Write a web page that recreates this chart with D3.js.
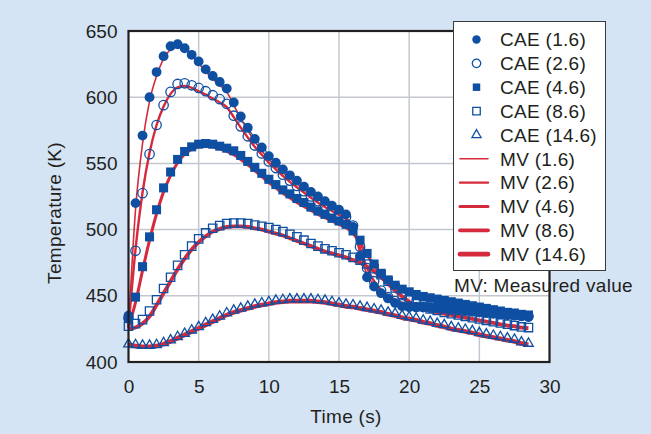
<!DOCTYPE html>
<html>
<head>
<meta charset="utf-8">
<script src="https://cdn.jsdelivr.net/npm/d3@7"></script>
<style>
  body { margin: 0; background: #d5e4f4; }
  svg { display: block; font-family: "Liberation Sans", Arial, sans-serif; }
</style>
</head>
<body>
<svg id="chart"></svg>
<script>
// time axis of both the CAE points and the measured values (s)
const time = [
  0, 0.5, 1, 1.5, 2, 2.5, 3, 3.5, 4, 4.5, 5, 5.5, 6, 6.5, 7, 7.5, 8, 8.5, 9, 9.5,
  10, 10.5, 11, 11.5, 12, 12.5, 13, 13.5, 14, 14.5, 15, 15.5, 16, 16.5, 17, 17.5, 18, 18.5, 19, 19.5,
  20, 20.5, 21, 21.5, 22, 22.5, 23, 23.5, 24, 24.5, 25, 25.5, 26, 26.5, 27, 27.5, 28, 28.5,
];

// CAE results (K)
const cae16 = [
  435, 520, 571, 600, 619, 631, 638.5, 640, 637, 632, 627, 621, 616, 611.5, 606.5, 596, 585.5, 577, 568.5, 562,
  555.5, 550.5, 545.5, 541, 537, 532.5, 528.5, 525, 521.5, 518, 515, 511.5, 502, 480, 464, 457, 452, 448, 444.5, 442,
  441.5, 441.5, 441.5, 441.5, 441, 440.5, 439.5, 439, 438.5, 438, 437.5, 437, 436.5, 436, 435.5, 435, 434.5, 434,
];
const cae26 = [
  433, 484, 527.5, 557, 579, 594, 604, 610, 610.5, 609, 607, 604.5, 601.5, 598.5, 595, 586, 578, 570.5, 563.5, 557.5,
  551.5, 546.5, 541.5, 537, 533, 529, 525, 521.5, 518, 515, 512, 509.5, 503, 487, 471, 461, 454, 449, 446, 443.5,
  442, 441.5, 441.5, 441, 441, 440.5, 440, 439.5, 439, 438.5, 438, 437.5, 437, 436.5, 436, 435.5, 435, 434.5,
];
const cae46 = [
  433, 449, 472, 494.5, 515, 531.5, 543.5, 553, 559, 562.5, 564.5, 565, 564.5, 563, 561.5, 559.5, 556, 551.5, 547, 542.5,
  538, 534, 530, 527, 523.5, 520.5, 517, 514, 511.5, 508.5, 506.5, 504, 499, 492, 482, 474, 467, 462, 458, 455,
  453, 451, 449.5, 448.5, 447.5, 446.5, 445.5, 444.5, 443.5, 442.5, 441.5, 440.5, 439.5, 438.5, 437.5, 437, 436, 435.5,
];
const cae86 = [
  427, 429, 432, 438.5, 447, 455.5, 464, 473, 481, 487.5, 493, 497.5, 501, 503, 504.5, 505, 505, 504.5, 503.5, 502.5,
  501.5, 500, 498.5, 496.5, 494.5, 492, 489.5, 487.5, 485.5, 484, 482.5, 481, 479, 477, 474, 470.5, 466, 461, 456, 451,
  447, 444, 442, 440, 439, 437.5, 436.5, 435.5, 434.5, 433.5, 432.5, 431.5, 430.5, 429.5, 428.5, 427.5, 426.5, 426,
];
const cae146 = [
  413.5, 413, 412.5, 412.5, 413, 414.5, 416.5, 419, 421.5, 424, 426.5, 429.5, 432, 434.5, 437, 439, 440.5, 442, 443.5, 444.5,
  445.5, 446.5, 447, 447.5, 447.5, 447.5, 447.5, 447, 446.5, 445.5, 444.5, 443.5, 443, 442, 441, 440, 439, 437.5, 436.5, 435,
  434, 433, 431.5, 430.5, 429, 428, 426.5, 425.5, 424.5, 423.5, 422, 421, 420, 419, 418, 417, 415, 414,
];

// measured values (K)
const mv16 = [
  426, 515, 565, 597, 616, 629, 636, 638, 636.5, 631.5, 625.5, 619.5, 614, 609, 604, 594, 584, 575, 566.5, 559.5,
  553, 548, 543, 538.5, 534.5, 530.5, 526.5, 523, 519.5, 516, 513, 509.5, 501, 482, 466, 458, 452.5, 448.5, 445.5, 443,
  441.5, 441, 440.5, 440, 439.5, 439, 438.5, 438, 437.5, 437, 436.5, 436, 435.5, 435, 434.5, 434, 433.5, 433,
];
const mv26 = [
  426, 485, 528, 558, 579, 593, 602.5, 607.5, 608.5, 607, 604.5, 602, 599, 596, 592.5, 585, 577, 569.5, 562.5, 556.5,
  550.5, 545.5, 540.5, 536, 532, 528, 524, 520.5, 517, 514, 511, 508, 502, 486, 471, 461, 454.5, 450, 447, 444.5,
  443, 442, 441.5, 441, 440.5, 440, 439.5, 439, 438.5, 438, 437.5, 437, 436.5, 436, 435.5, 435, 434.5, 434,
];
const mv46 = [
  426, 445, 469, 492, 512, 528.5, 541, 550.5, 557, 560.5, 562.5, 563, 562.5, 561, 559, 556.5, 553, 549, 544.5, 540,
  535.5, 531.5, 527.5, 524, 520.5, 517.5, 514.5, 511.5, 509, 506.5, 504, 501.5, 497, 490, 481, 473, 466, 461, 457, 454,
  451.5, 449.5, 448, 447, 446, 445, 444, 443, 442, 441, 440, 439, 438, 437.5, 436.5, 435.5, 435, 434.5,
];
const mv86 = [
  425, 426, 429, 434.5, 443, 452, 461, 470, 478, 485, 490.5, 495, 498.5, 500.5, 502, 502.5, 502.5, 502, 501, 500,
  498.5, 497, 495.5, 493.5, 491.5, 489.5, 487.5, 485.5, 483.5, 482, 480.5, 479, 477, 475, 472, 468.5, 464, 459, 454, 449.5,
  445.5, 442.5, 440.5, 439, 437.5, 436.5, 435.5, 434.5, 433.5, 432.5, 431.5, 430.5, 429.5, 428.5, 427.5, 427, 426, 425.5,
];
const mv146 = [
  413, 412, 411.5, 411.5, 412, 413.5, 415.5, 418, 420.5, 423, 425.5, 428, 430.5, 433, 435.5, 437.5, 439, 440.5, 442, 443,
  444, 445, 445.5, 446, 446, 446, 446, 445.5, 445, 444, 443, 442, 441.5, 440.5, 439.5, 438.5, 437.5, 436, 435, 433.5,
  432.5, 431.5, 430, 429, 427.5, 426.5, 425, 424, 423, 422, 420.5, 419.5, 418.5, 417.5, 416.5, 415.5, 414, 413,
];

const xTicks = [0, 5, 10, 15, 20, 25, 30];
const yTicks = [400, 450, 500, 550, 600, 650];
const caeLabels = ["CAE (1.6)", "CAE (2.6)", "CAE (4.6)", "CAE (8.6)", "CAE (14.6)"];
const mvLabels = ["MV (1.6)", "MV (2.6)", "MV (4.6)", "MV (8.6)", "MV (14.6)"];

const width = 651, height = 434;
const blue = "#0f4fa2", red = "#d42a3c", ink = "#231f20";
const fontSize = 19;

const svg = d3.select("#chart").attr("width", width).attr("height", height);
svg.append("rect").attr("width", width).attr("height", height).attr("fill", "#d5e4f4");

const x = d3.scaleLinear().domain([0, 30]).range([128.5, 549.5]);
const y = d3.scaleLinear().domain([400, 650]).range([362, 31]);

// plot background
svg.append("rect")
  .attr("x", x(0)).attr("y", y(650))
  .attr("width", x(30) - x(0)).attr("height", y(400) - y(650))
  .attr("fill", "#fff");

// grid
svg.append("g")
  .selectAll("line")
  .data(xTicks.slice(1, -1))
  .join("line")
  .attr("x1", (d) => x(d)).attr("x2", (d) => x(d))
  .attr("y1", y(650)).attr("y2", y(400))
  .attr("stroke", "#c3c8d0").attr("stroke-width", 1.5);
svg.append("g")
  .selectAll("line")
  .data(yTicks.slice(1, -1))
  .join("line")
  .attr("x1", x(0)).attr("x2", x(30))
  .attr("y1", (d) => y(d)).attr("y2", (d) => y(d))
  .attr("stroke", "#c3c8d0").attr("stroke-width", 1.5);

// axes (labels only, frame drawn separately)
const xAxis = svg.append("g")
  .attr("transform", `translate(0 ${y(400)})`)
  .call(d3.axisBottom(x).tickValues(xTicks).tickSize(0).tickPadding(18));
const yAxis = svg.append("g")
  .attr("transform", `translate(${x(0)} 0)`)
  .call(d3.axisLeft(y).tickValues(yTicks).tickSize(0).tickPadding(11));
[xAxis, yAxis].forEach((g) => {
  g.select(".domain").remove();
  g.selectAll("text").attr("font-size", fontSize).attr("fill", ink).attr("font-family", null);
});

// MV lines
const mvSeries = [mv16, mv26, mv46, mv86, mv146];
const mvWidths = [1.6, 2.4, 3.0, 3.8, 4.6];
const line = d3.line()
  .x((d, i) => x(time[i]))
  .y((d) => y(d))
  .curve(d3.curveMonotoneX);
svg.append("g")
  .selectAll("path")
  .data(mvSeries)
  .join("path")
  .attr("d", line)
  .attr("fill", "none")
  .attr("stroke", red)
  .attr("stroke-width", (d, i) => mvWidths[i])
  .attr("stroke-linejoin", "round");

// CAE markers
const caeSeries = [cae16, cae26, cae46, cae86, cae146];
const shapes = [
  { type: d3.symbolCircle, size: 76, fill: blue, stroke: "none" },
  { type: d3.symbolCircle, size: 70, fill: "none", stroke: blue },
  { type: d3.symbolSquare, size: 82, fill: blue, stroke: "none" },
  { type: d3.symbolSquare, size: 70, fill: "none", stroke: blue },
  { type: d3.symbolTriangle, size: 40, fill: "none", stroke: blue },
];
const drawOrder = [4, 3, 2, 1, 0];
drawOrder.forEach((s) => {
  const sh = shapes[s];
  svg.append("g")
    .selectAll("path")
    .data(caeSeries[s])
    .join("path")
    .attr("transform", (d, i) => `translate(${x(time[i])},${y(d)})`)
    .attr("d", d3.symbol(sh.type, sh.size))
    .attr("fill", sh.fill)
    .attr("stroke", sh.stroke)
    .attr("stroke-width", 1.3);
});

// plot frame
svg.append("rect")
  .attr("x", x(0)).attr("y", y(650))
  .attr("width", x(30) - x(0)).attr("height", y(400) - y(650))
  .attr("fill", "none").attr("stroke", ink).attr("stroke-width", 2.2);

// axis titles
svg.append("text")
  .attr("x", 346).attr("y", 423)
  .attr("text-anchor", "middle").attr("font-size", fontSize).attr("fill", ink)
  .attr("letter-spacing", 0.3)
  .text("Time (s)");
svg.append("text")
  .attr("transform", "translate(61 213) rotate(-90)")
  .attr("text-anchor", "middle").attr("font-size", fontSize).attr("fill", ink)
  .attr("letter-spacing", 0.3)
  .text("Temperature (K)");

// legend
const legend = svg.append("g");
legend.append("rect")
  .attr("x", 453.5).attr("y", 21.5).attr("width", 152).attr("height", 249)
  .attr("fill", "#fff").attr("stroke", "#3a3a3a").attr("stroke-width", 1);
const rowY = (i) => 39.5 + i * 23.85;
caeLabels.forEach((lab, i) => {
  const sh = shapes[i];
  legend.append("path")
    .attr("transform", `translate(476.5,${rowY(i)})`)
    .attr("d", d3.symbol(sh.type, i === 4 ? 36 : 56))
    .attr("fill", sh.fill).attr("stroke", sh.stroke).attr("stroke-width", 1.3);
  legend.append("text")
    .attr("x", 500).attr("y", rowY(i) + 6.8)
    .attr("font-size", fontSize).attr("fill", ink).attr("letter-spacing", 0.3)
    .text(lab);
});
mvLabels.forEach((lab, j) => {
  const i = j + 5;
  legend.append("line")
    .attr("x1", 460).attr("x2", 488)
    .attr("y1", rowY(i)).attr("y2", rowY(i))
    .attr("stroke", red).attr("stroke-width", mvWidths[j]).attr("stroke-linecap", "round");
  legend.append("text")
    .attr("x", 500).attr("y", rowY(i) + 6.8)
    .attr("font-size", fontSize).attr("fill", ink).attr("letter-spacing", 0.3)
    .text(lab);
});
svg.append("text")
  .attr("x", 454).attr("y", 292)
  .attr("font-size", fontSize).attr("fill", ink).attr("letter-spacing", 0.3)
  .text("MV: Measured value");
</script>
</body>
</html>
